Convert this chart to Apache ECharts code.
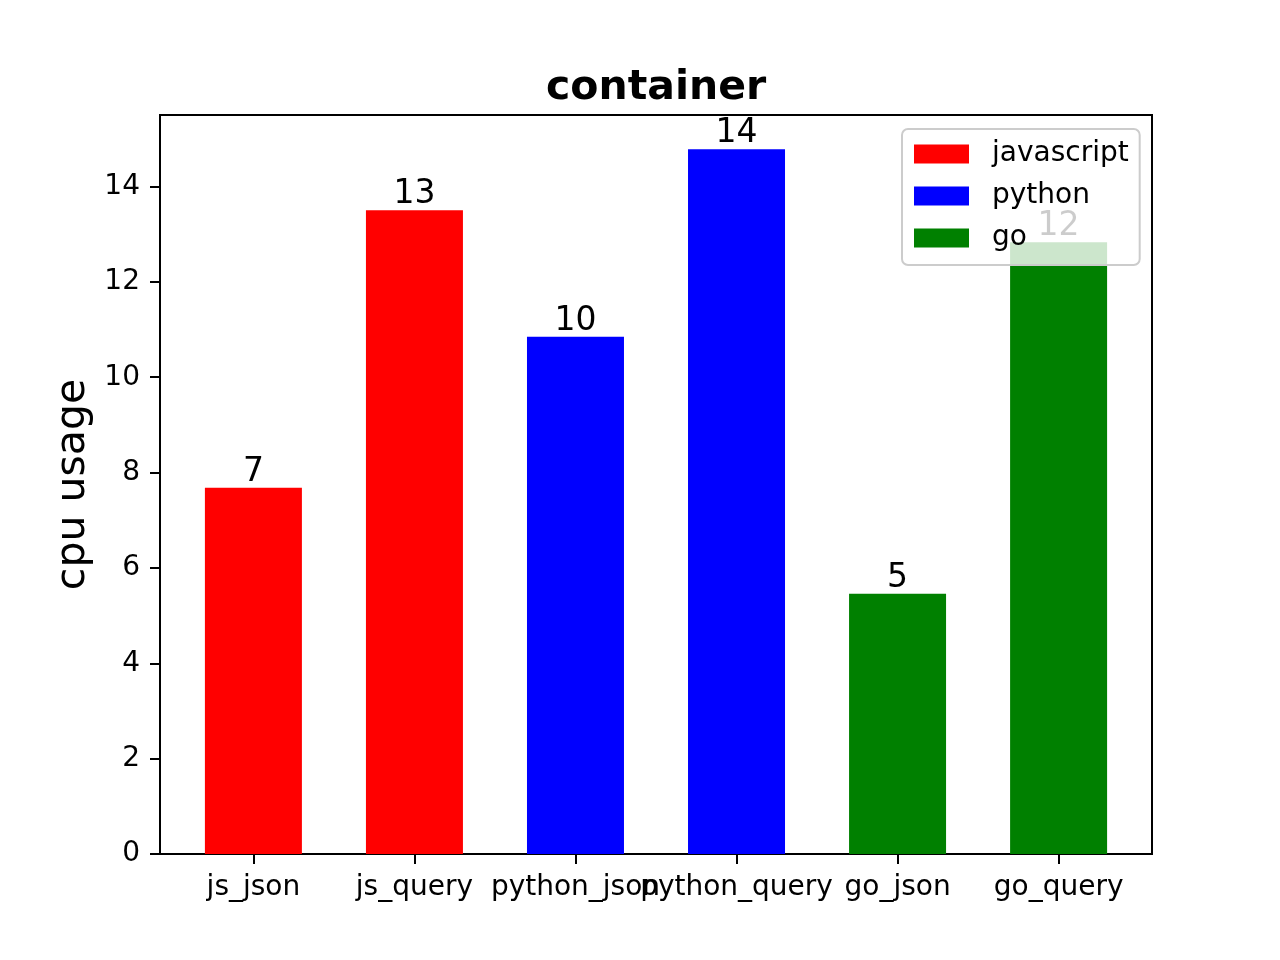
<!DOCTYPE html>
<html>
<head>
<meta charset="utf-8">
<script src="https://cdn.jsdelivr.net/npm/echarts@6/dist/echarts.min.js"></script>
<style>
  html, body { margin: 0; padding: 0; background: #fff; }
  #main { width: 1280px; height: 960px; }
</style>
</head>
<body>
<div id="main"></div>
<script>
// data
var categories = ['js_json', 'js_query', 'python_json', 'python_query', 'go_json', 'go_query'];
var values = [7.68, 13.5, 10.85, 14.78, 5.46, 12.83];
var groups = ['javascript', 'javascript', 'python', 'python', 'go', 'go'];
var seriesNames = ['javascript', 'python', 'go'];
var seriesColors = ['#ff0000', '#0000ff', '#008000'];
var yTicks = [0, 2, 4, 6, 8, 10, 12, 14];
var xTicks = [0, 1, 2, 3, 4, 5];

var font = 'DejaVu Sans';
var div = document.getElementById('main');
var chart = echarts.init(div, null, { renderer: 'canvas' });

var series = seriesNames.map(function (name, k) {
  var data = [];
  for (var i = 0; i < categories.length; i++) {
    if (groups[i] === name) data.push([i, values[i]]);
  }
  return {
    name: name,
    type: 'bar',
    data: data,
    barWidth: 97,
    barGap: '-100%',
    itemStyle: { color: seriesColors[k] },
    label: {
      show: true,
      position: 'top',
      distance: -1,
      color: '#000',
      fontFamily: font,
      fontSize: 33,
      formatter: function (p) { return String(Math.floor(p.value[1])); }
    }
  };
});

var option = {
  animation: false,
  backgroundColor: '#fff',
  title: {
    text: 'container',
    left: 541,
    top: 63,
    textStyle: { fontFamily: font, fontWeight: 'bold', fontSize: 41, color: '#000' }
  },
  legend: {
    data: seriesNames,
    orient: 'vertical',
    left: 902,
    top: 129,
    icon: 'rect',
    itemWidth: 55,
    itemHeight: 19,
    itemGap: 14,
    padding: [11, 11, 13, 12],
    backgroundColor: 'rgba(255,255,255,0.8)',
    borderColor: '#cccccc',
    borderWidth: 2,
    borderRadius: 6,
    textStyle: { fontFamily: font, fontSize: 28, color: '#000', padding: [0, 0, 0, 18] }
  },
  grid: {
    left: 160, right: 128, top: 115, bottom: 106,
    show: true, borderColor: '#000', borderWidth: 2, backgroundColor: 'transparent'
  },
  xAxis: {
    type: 'value',
    min: -0.58,
    max: 5.58,
    splitLine: { show: false },
    axisLine: { show: true, onZero: false, lineStyle: { color: '#000', width: 2 } },
    axisTick: { show: true, length: 10, lineStyle: { color: '#000', width: 2 }, customValues: xTicks },
    axisLabel: {
      customValues: xTicks,
      margin: 20,
      color: '#000',
      fontFamily: font,
      fontSize: 28,
      formatter: function (v) { return categories[Math.round(v)]; }
    }
  },
  yAxis: {
    type: 'value',
    min: 0,
    max: 15.5,
    name: 'cpu usage',
    nameLocation: 'middle',
    nameRotate: 90,
    nameGap: 66,
    nameTextStyle: { fontFamily: font, fontSize: 41, color: '#000' },
    splitLine: { show: false },
    axisLine: { show: true, onZero: false, lineStyle: { color: '#000', width: 2 } },
    axisTick: { show: true, length: 10, lineStyle: { color: '#000', width: 2 }, customValues: yTicks },
    axisLabel: {
      customValues: yTicks,
      margin: 20,
      padding: [8, 0, 0, 0],
      color: '#000',
      fontFamily: font,
      fontSize: 28
    }
  },
  series: series
};

chart.setOption(option);
</script>
</body>
</html>
